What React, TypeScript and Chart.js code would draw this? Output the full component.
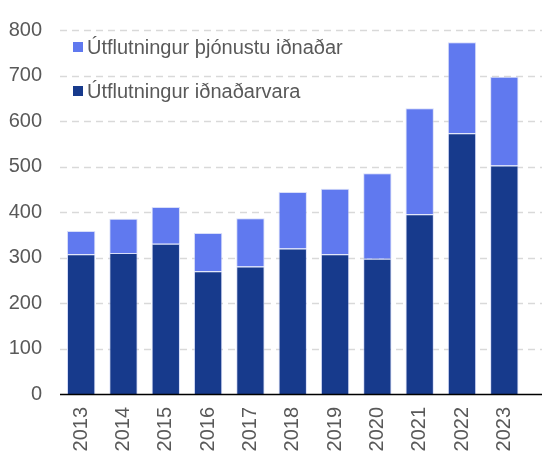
import React, { useEffect, useRef } from "react";
import { Chart, registerables } from "chart.js";

Chart.register(...registerables);

const years = ["2013", "2014", "2015", "2016", "2017", "2018", "2019", "2020", "2021", "2022", "2023"];
const goods = [307, 310, 330, 270, 280, 320, 307, 297, 395, 573, 502];
const services = [51, 75, 81, 84, 106, 124, 144, 188, 233, 200, 195];
const yTicks = [0, 100, 200, 300, 400, 500, 600, 700, 800];
const goodsLabel = "Útflutningur iðnaðarvara";
const servicesLabel = "Útflutningur þjónustu iðnaðar";

const DARK = "#173A8C";
const LIGHT = "#6079EF";
const TEXT = "#595959";
const FONT = "'Liberation Sans', Arial, sans-serif";

const decorPlugin = {
  id: "decor",
  beforeDatasetsDraw(chart: any) {
    const { ctx, chartArea } = chart;
    const y = chart.scales.y;
    ctx.save();
    ctx.strokeStyle = "#D9D9D9";
    ctx.lineWidth = 1.5;
    ctx.setLineDash([7, 5]);
    for (const v of yTicks) {
      if (v === 0) continue;
      const py = Math.round(y.getPixelForValue(v)) + 0.5;
      ctx.beginPath();
      ctx.moveTo(chartArea.left, py);
      ctx.lineTo(chart.width, py);
      ctx.stroke();
    }
    ctx.restore();
  },
  afterDatasetsDraw(chart: any) {
    const { ctx, chartArea } = chart;
    const y = chart.scales.y;
    ctx.save();
    ctx.strokeStyle = "#000000";
    ctx.lineWidth = 1.5;
    const py = y.getPixelForValue(0) + 0.5;
    ctx.beginPath();
    ctx.moveTo(chartArea.left, py);
    ctx.lineTo(chart.width, py);
    ctx.stroke();

    // legend
    const items = [
      { label: servicesLabel, color: LIGHT, cy: 47 },
      { label: goodsLabel, color: DARK, cy: 91 },
    ];
    ctx.font = `20px ${FONT}`;
    ctx.textBaseline = "middle";
    ctx.textAlign = "left";
    for (const it of items) {
      ctx.fillStyle = it.color;
      ctx.fillRect(chartArea.left + 13, it.cy - 5, 10, 10);
      ctx.fillStyle = TEXT;
      ctx.fillText(it.label, chartArea.left + 27, it.cy + 1);
    }
    ctx.restore();
  },
};

export default function App() {
  const ref = useRef<HTMLCanvasElement>(null);
  useEffect(() => {
    if (!ref.current) return;
    const chart = new Chart(ref.current, {
      type: "bar",
      data: {
        labels: years,
        datasets: [
          {
            label: goodsLabel,
            data: goods,
            backgroundColor: DARK,
            borderColor: "rgba(190,200,245,0.6)",
            borderWidth: 1,
            categoryPercentage: 1,
            barPercentage: 0.67,
          },
          {
            label: servicesLabel,
            data: services,
            backgroundColor: LIGHT,
            borderColor: "rgba(190,200,245,0.6)",
            borderWidth: 1,
            categoryPercentage: 1,
            barPercentage: 0.67,
          },
        ],
      },
      options: {
        responsive: false,
        animation: false,
        layout: { padding: { top: 21, right: 15, left: 0, bottom: 0 } },
        plugins: { legend: { display: false }, tooltip: { enabled: false } },
        scales: {
          x: {
            stacked: true,
            grid: { display: false, drawTicks: false },
            border: { display: false },
            ticks: {
              minRotation: 90,
              maxRotation: 90,
              padding: 13,
              color: TEXT,
              font: { family: FONT, size: 20 },
            },
            afterFit: (s: any) => {
              s.height = 61;
            },
          },
          y: {
            stacked: true,
            min: 0,
            max: 800,
            grid: { display: false, drawTicks: false },
            border: { display: false },
            ticks: {
              stepSize: 100,
              padding: 18,
              color: TEXT,
              font: { family: FONT, size: 20 },
            },
            afterFit: (s: any) => {
              s.width = 60;
            },
          },
        },
      },
      plugins: [decorPlugin],
    });
    return () => chart.destroy();
  }, []);
  return (
    <div style={{ position: "fixed", left: 0, top: 0, width: 542, height: 455, background: "#fff" }}>
      <canvas ref={ref} width={542} height={455} style={{ width: 542, height: 455 }} />
    </div>
  );
}
